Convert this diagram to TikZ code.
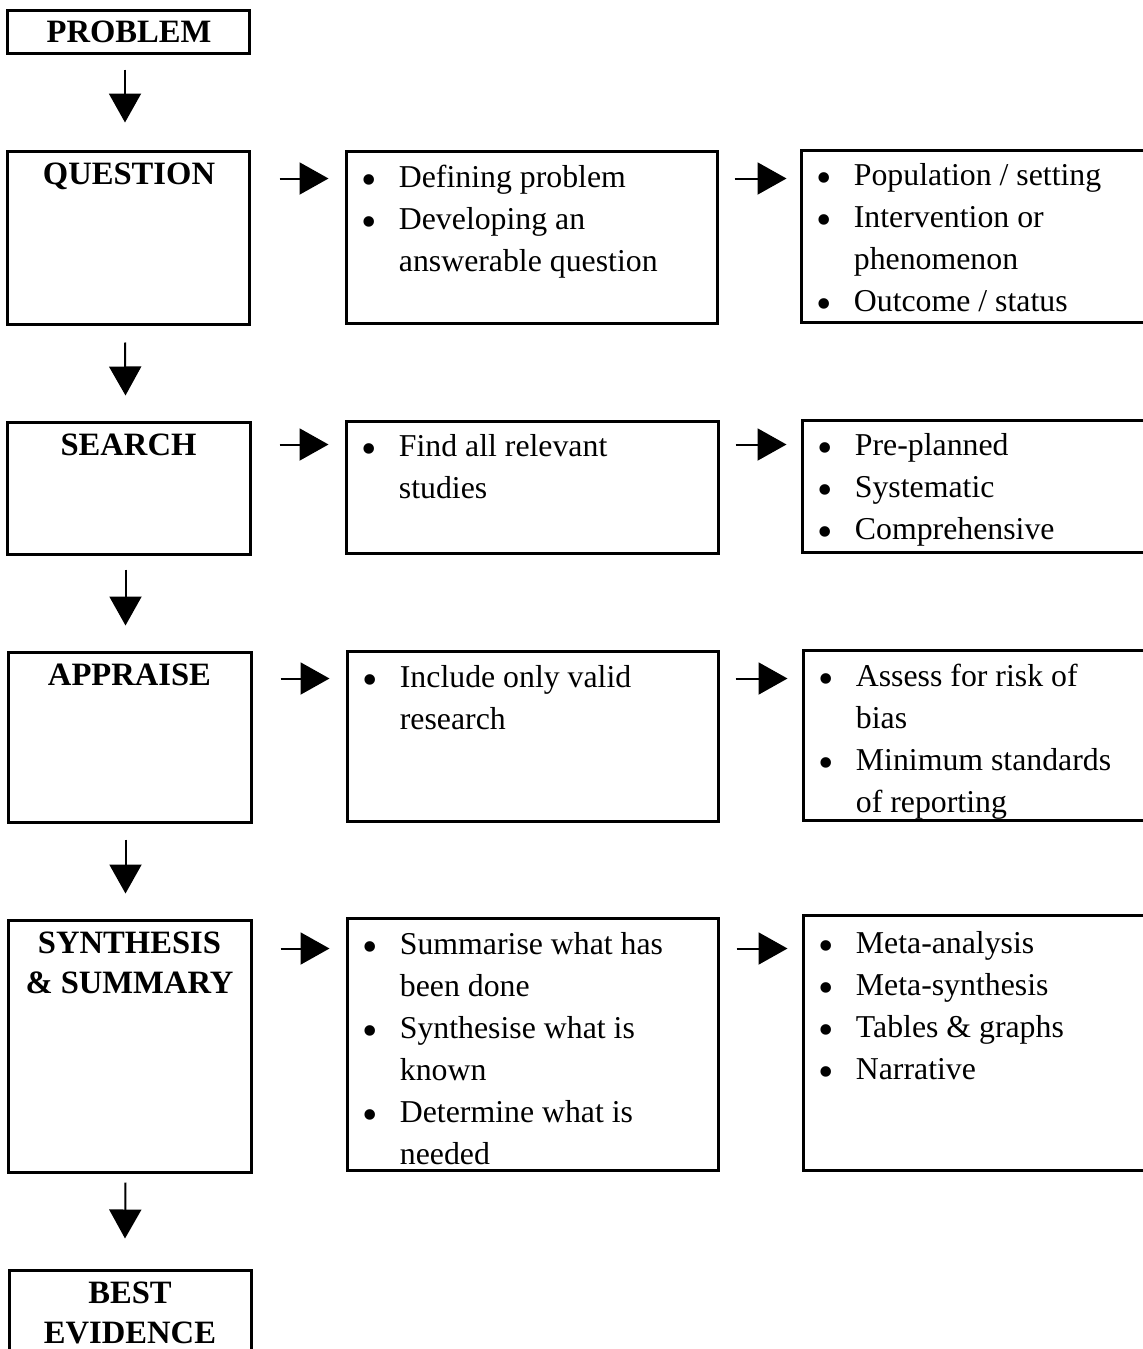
\documentclass[tikz,border=0pt]{standalone}
\usepackage{fontspec}
\setmainfont{Liberation Serif}
\usetikzlibrary{arrows.meta,calc,fit}
% list bullet, larger than the text bullet of the font
\newcommand\bul{\leavevmode\llap{\smash{\raisebox{-3.4pt}{\fontsize{22pt}{0pt}\selectfont\textbullet}}\hspace{11pt}}}
\begin{document}
\begin{tikzpicture}[x=0.5pt,y=-0.5pt,
  box/.style={draw, line width=1.5pt, inner sep=0pt},
  head/.style={inner sep=0pt, anchor=base, font=\fontsize{16.3pt}{20pt}\selectfont\bfseries},
  lst/.style={inner sep=0pt, anchor=base west, font=\fontsize{15.9pt}{21pt}\selectfont},
  arr/.style={line width=1pt, -{Triangle[length=14.5pt,width=16pt]}}]
\useasboundingbox (0,0) rectangle (1142,1349);

% left column: stages
\node[box, fit={(7,10)(249,53)}] (prob) {};
\node[box, fit={(7,151)(249,324)}] (q) {};
\node[box, fit={(7,422)(250,554)}] (s) {};
\node[box, fit={(8,652)(251,822)}] (a) {};
\node[box, fit={(8,920)(251,1172)}] (syn) {};
\node[box, fit={(9,1270)(251,1365)}] (best) {};

% middle column
\node[box, fit={(346,151)(717,323)}] (qm) {};
\node[box, fit={(346,421)(718,553)}] (sm) {};
\node[box, fit={(347,651)(718,821)}] (am) {};
\node[box, fit={(347,918)(718,1170)}] (synm) {};

% right column
\node[box, fit={(801,150)(1155,322)}] (qr) {};
\node[box, fit={(802,420)(1155,552)}] (sr) {};
\node[box, fit={(803,650)(1155,820)}] (ar) {};
\node[box, fit={(803,915)(1155,1170)}] (synr) {};

% stage titles
\node[head] (probt) at ($(prob.north)+(1,34)$) {PROBLEM};
\node[head] (qt) at ($(q.north)+(1,35)$) {QUESTION};
\node[head] (st) at ($(s.north)+(0,35)$) {SEARCH};
\node[head] (at) at ($(a.north)+(0,35)$) {APPRAISE};
\node[head] (synt) at ($(syn.north)+(0,35)$) {\parbox[t]{124pt}{\centering SYNTHESIS\\ \&~SUMMARY}};
\node[head] (bestt) at ($(best.north)+(0,35)$) {\parbox[t]{124pt}{\centering BEST\\ EVIDENCE}};

% bullet lists
\node[lst] (qmt) at ($(qm.north west)+(54,38)$) {\parbox[t]{170pt}{\bul Defining problem\\ \bul Developing an\\ answerable question}};
\node[lst] (qrt) at ($(qr.north west)+(54,37)$) {\parbox[t]{170pt}{\bul Population / setting\\ \bul Intervention or\\ phenomenon\\ \bul Outcome / status}};
\node[lst] (smt) at ($(sm.north west)+(54,37)$) {\parbox[t]{170pt}{\bul Find all relevant\\ studies}};
\node[lst] (srt) at ($(sr.north west)+(54,37)$) {\parbox[t]{170pt}{\bul Pre-planned\\ \bul Systematic\\ \bul Comprehensive}};
\node[lst] (amt) at ($(am.north west)+(54,38)$) {\parbox[t]{170pt}{\bul Include only valid\\ research}};
\node[lst] (art) at ($(ar.north west)+(54,38)$) {\parbox[t]{170pt}{\bul Assess for risk of\\ bias\\ \bul Minimum standards\\ of reporting}};
\node[lst] (synmt) at ($(synm.north west)+(54,38)$) {\parbox[t]{170pt}{\bul Summarise what has\\ been done\\ \bul Synthesise what is\\ known\\ \bul Determine what is\\ needed}};
\node[lst] (synrt) at ($(synr.north west)+(54,40)$) {\parbox[t]{170pt}{\bul Meta-analysis\\ \bul Meta-synthesis\\ \bul Tables \& graphs\\ \bul Narrative}};

% downward flow
\draw[arr] ($(prob.south)+(-3,15)$) -- ($(q.north)+(-3,-27)$);
\draw[arr] ($(q.south)+(-3,17)$) -- ($(s.north)+(-3,-25)$);
\draw[arr] ($(s.south)+(-3,14)$) -- ($(a.north)+(-4,-25)$);
\draw[arr] ($(a.south)+(-4,16)$) -- ($(syn.north)+(-4,-25)$);
\draw[arr] ($(syn.south)+(-4,9)$) -- ($(best.north)+(-5,-30)$);

% sideways flow
\draw[arr] ($(q.north east)+(29,29)$) -- ($(qm.north west)+(-16,29)$);
\draw[arr] ($(qm.north east)+(16,29)$) -- ($(qr.north west)+(-13,30)$);
\draw[arr] ($(s.north east)+(28,24)$) -- ($(sm.north west)+(-16,25)$);
\draw[arr] ($(sm.north east)+(16,25)$) -- ($(sr.north west)+(-14,26)$);
\draw[arr] ($(a.north east)+(28,28)$) -- ($(am.north west)+(-16,29)$);
\draw[arr] ($(am.north east)+(16,29)$) -- ($(ar.north west)+(-14,30)$);
\draw[arr] ($(syn.north east)+(28,30)$) -- ($(synm.north west)+(-16,32)$);
\draw[arr] ($(synm.north east)+(17,32)$) -- ($(synr.north west)+(-14,35)$);
\end{tikzpicture}
\end{document}
